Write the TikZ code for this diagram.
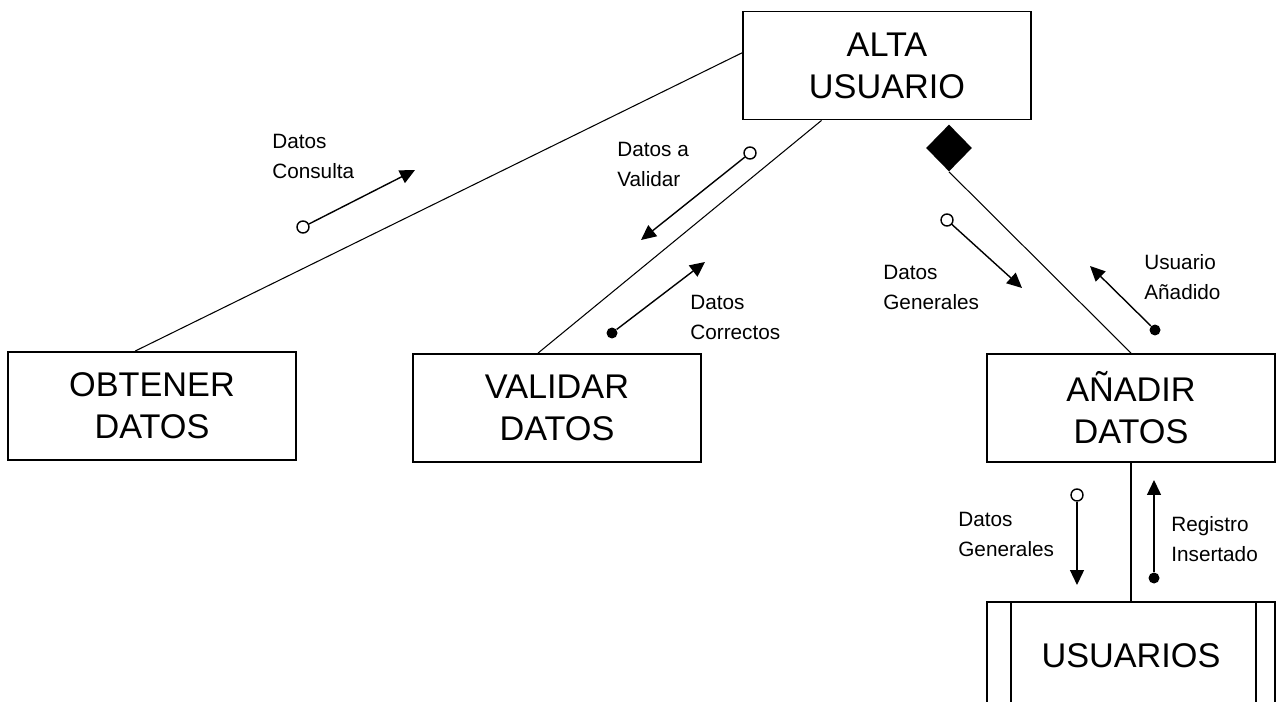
\documentclass[tikz,border=0pt]{standalone}
\usepackage{fontspec}
\setmainfont{Liberation Sans}
\usetikzlibrary{
  arrows.meta,
  shapes.geometric,
  calc
}

\begin{document}
\begin{tikzpicture}[
  x=0.02cm, y=-0.02cm,
  box/.style={draw, line width=1.1pt, minimum width=5.76cm, minimum height=2.16cm, inner sep=0pt, align=center, font=\fontsize{19.5}{23.8}\selectfont},
  lbl/.style={anchor=north west, inner sep=0pt, align=left, font=\fontsize{11.8}{17}\selectfont},
  link/.style={draw, line width=0.6pt},
  flow/.style={draw, line width=0.8pt, -{Triangle[length=0.3cm, width=0.28cm]}},
  ocirc/.style={circle, draw, fill=white, line width=0.8pt, minimum size=0.24cm, inner sep=0pt},
  fdot/.style={circle, fill=black, minimum size=0.22cm, inner sep=0pt}
]
  \useasboundingbox (0,0) rectangle (1277,702);
  \clip (0,0) rectangle (1277,702);

  \node[box] (alta) at (887,65.5) {ALTA\\USUARIO};
  \node[box] (obt) at (152,406) {OBTENER\\DATOS};
  \node[box] (val) at (557,408) {VALIDAR\\DATOS};
  \node[box] (an) at (1131,408) {AÑADIR\\DATOS};
  \node[box] (usu) at (1131,656) {USUARIOS};
  \draw[line width=1.1pt] ($(usu.north west)+(25,0)$) -- ($(usu.south west)+(25,0)$);
  \draw[line width=1.1pt] ($(usu.north east)+(-20,0)$) -- ($(usu.south east)+(-20,0)$);
  \node[diamond, fill=black, minimum width=0.92cm, minimum height=0.94cm, inner sep=0pt] (dia) at (949,148) {};

  \draw[link] (alta.175.8) -- (obt.107.5);
  \draw[link] (alta.220.8) -- (val.109.4);
  \draw[link] (dia.south) -- (an.north);
  \draw[link] (an.south) -- (usu.north);

  \node[ocirc] (c1) at (303,227) {};
  \coordinate (t1) at (415,170);
  \draw[flow] (c1) -- (t1);
  \node[lbl] (l1) at (272,134) {Datos\\Consulta};

  \node[ocirc] (c2) at (750,153) {};
  \coordinate (t2) at (641,240);
  \draw[flow] (c2) -- (t2);
  \node[lbl] (l2) at (617,142) {Datos a\\Validar};

  \node[fdot] (c3) at (612,333) {};
  \coordinate (t3) at (705,262);
  \draw[flow] (c3) -- (t3);
  \node[lbl] (l3) at (690,295) {Datos\\Correctos};

  \node[ocirc] (c4) at (947,220) {};
  \coordinate (t4) at (1022,288);
  \draw[flow] (c4) -- (t4);
  \node[lbl] (l4) at (883,265) {Datos\\Generales};

  \node[fdot] (c5) at (1155,330) {};
  \coordinate (t5) at (1090,266);
  \draw[flow] (c5) -- (t5);
  \node[lbl] (l5) at (1144,254) {Usuario\\Añadido};

  \node[ocirc] (c6) at (1077,495) {};
  \coordinate (t6) at (1077,585);
  \draw[flow] (c6) -- (t6);
  \node[lbl] (l6) at (958,512) {Datos\\Generales};

  \node[fdot] (c7) at (1154,578) {};
  \coordinate (t7) at (1154,480);
  \draw[flow] (c7) -- (t7);
  \node[lbl] (l7) at (1171,516) {Registro\\Insertado};
\end{tikzpicture}
\end{document}
